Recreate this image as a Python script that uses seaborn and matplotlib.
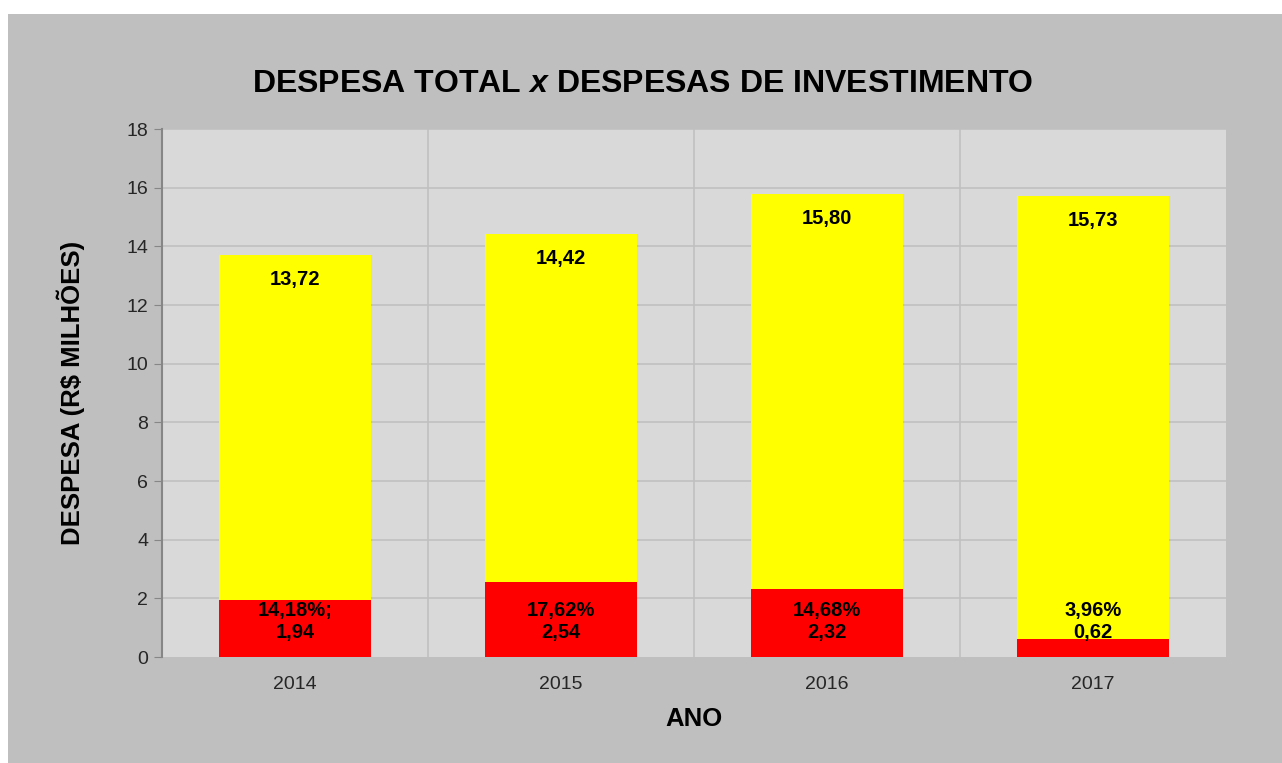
import matplotlib.pyplot as plt
import seaborn as sns
import pandas as pd
from matplotlib.patches import Rectangle

anos = ["2014", "2015", "2016", "2017"]
despesa_total = [13.72, 14.42, 15.80, 15.73]
despesa_investimento = [1.94, 2.54, 2.32, 0.62]
percentuais = ["14,18%;", "17,62%", "14,68%", "3,96%"]

df = pd.DataFrame({"ano": anos, "total": despesa_total, "invest": despesa_investimento})

sns.set_style("whitegrid")
plt.rcParams["font.family"] = ["Liberation Sans", "DejaVu Sans"]
plt.rcParams["mathtext.fontset"] = "custom"
plt.rcParams["mathtext.it"] = "Liberation Sans:italic:bold"

fig = plt.figure(figsize=(12.82, 7.63), dpi=100, facecolor="white")
# outer gray chart area
fig.patches.append(Rectangle((8 / 1282, 0), 1 - 8 / 1282, 1 - 14 / 763,
                             transform=fig.transFigure, facecolor="#bfbfbf",
                             edgecolor="none", zorder=-10))
ax = fig.add_axes([162 / 1282, 1 - 657 / 763, (1226 - 162) / 1282, (657 - 129) / 763])
ax.set_facecolor("#d9d9d9")

sns.barplot(data=df, x="ano", y="total", color="#ffff00", saturation=1,
            width=0.575, linewidth=0, ax=ax, zorder=3)
sns.barplot(data=df, x="ano", y="invest", color="#ff0000", saturation=1,
            width=0.575, linewidth=0, ax=ax, zorder=3)

# labels
for i, (t, v, p) in enumerate(zip(despesa_total, despesa_investimento, percentuais)):
    ax.text(i, t - 0.85, f"{t:.2f}".replace(".", ","), ha="center", va="center",
            fontsize=14.5, fontweight="bold", color="black", zorder=5)
    ax.text(i, 1.2, p + "\n" + f"{v:.2f}".replace(".", ","),
            ha="center", va="center", fontsize=14.5, fontweight="bold",
            color="black", linespacing=1.2, zorder=5)

ax.set_ylim(0, 18)
ax.set_xlim(-0.5, 3.5)
ax.set_yticks(range(0, 19, 2))
ax.grid(False)
for y in range(2, 19, 2):
    ax.axhline(y, color="#c0c0c0", lw=1.2, zorder=1)
for x in [0.5, 1.5, 2.5]:
    ax.axvline(x, color="#c0c0c0", lw=1.2, zorder=1)

for s in ["top", "right", "bottom"]:
    ax.spines[s].set_visible(False)
ax.spines["left"].set_color("#868686")
ax.spines["left"].set_linewidth(1.5)
ax.tick_params(axis="y", which="both", left=True, length=6, color="#868686",
               labelsize=14, labelcolor="#262626", pad=4)
ax.tick_params(axis="x", bottom=False, labelsize=14, labelcolor="#262626", pad=10)

ax.set_xlabel("ANO", fontsize=18.5, fontweight="bold", labelpad=10, color="black")
ax.set_ylabel("DESPESA (R$ MILHÕES)", fontsize=18.5, fontweight="bold", labelpad=30,
              color="black")

fig.text(643 / 1282, 1 - 84 / 763, "DESPESA TOTAL $x$ DESPESAS DE INVESTIMENTO",
         ha="center", va="center", fontsize=23, fontweight="bold", color="black")

fig.savefig("out.png", dpi=100, facecolor=fig.get_facecolor())
